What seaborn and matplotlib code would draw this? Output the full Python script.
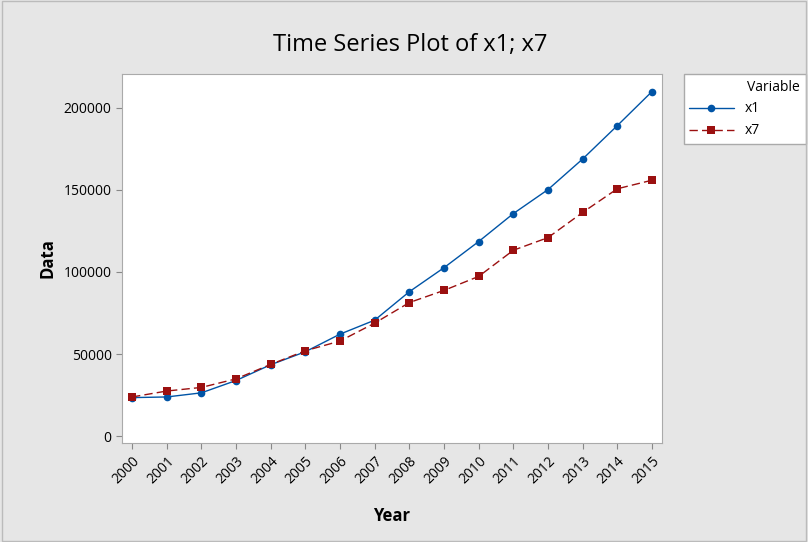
import pandas as pd
import matplotlib.pyplot as plt
import seaborn as sns

# values
years = list(range(2000, 2016))
x1 = [23600, 24000, 26500, 34000, 43600, 51500, 62200, 70700,
      88000, 102600, 118500, 135500, 150100, 168700, 189000, 209700]
x7 = [24000, 27600, 29800, 35000, 43800, 52100, 58000, 68900,
      81400, 88800, 97300, 113200, 120900, 136200, 150600, 155800]

df = pd.DataFrame({'Year': years * 2,
                   'Data': x1 + x7,
                   'Variable': ['x1'] * len(years) + ['x7'] * len(years)})

sns.set_style('white')
plt.rcParams['font.family'] = ['Open Sans', 'DejaVu Sans']
plt.rcParams['text.color'] = 'black'
plt.rcParams['xtick.color'] = 'black'
plt.rcParams['ytick.color'] = 'black'
plt.rcParams['axes.labelcolor'] = 'black'

fig = plt.figure(figsize=(8.08, 5.42), dpi=100, facecolor='#e6e6e6')
ax = fig.add_axes([122/808, 1 - 443/542, 540/808, 369/542])

palette = {'x1': '#0054a6', 'x7': '#9b1010'}
sns.lineplot(data=df, x='Year', y='Data', hue='Variable', style='Variable',
             palette=palette, markers={'x1': 'o', 'x7': 's'},
             dashes={'x1': '', 'x7': (6, 3)}, linewidth=1,
             markersize=5.5, markeredgewidth=0, ax=ax)

ax.set_xlim(1999.71, 2015.29)
ax.set_ylim(-4000, 220400)
ax.set_xticks(years)
ax.set_xticklabels([str(y) for y in years], rotation=45, ha='right',
                   rotation_mode='anchor', fontsize=10)
ax.set_yticks([0, 50000, 100000, 150000, 200000])
ax.tick_params(axis='y', labelsize=10, length=4)
ax.tick_params(axis='x', length=4)
ax.tick_params(bottom=True, left=True, color='#888888')
for s in ax.spines.values():
    s.set_color('#aaaaaa')

ax.set_xlabel('Year', fontsize=12, fontweight='bold', labelpad=15)
ax.set_ylabel('Data', fontsize=12, fontweight='bold', labelpad=5)
fig.text(410/808, 1 - 45/542, 'Time Series Plot of x1; x7', fontsize=17,
         ha='center', va='center')

leg = ax.legend(title='Variable', loc='upper left',
                bbox_to_anchor=(1.04, 0.5, 0.226, 0.5), mode='expand',
                frameon=True, fancybox=False, fontsize=10, title_fontsize=10,
                borderaxespad=0, handlelength=3.2, framealpha=1)
leg.get_frame().set_edgecolor('#aaaaaa')
leg.get_frame().set_facecolor('white')
leg._legend_box.align = 'right'

fig.patches.append(plt.Rectangle((0.002, 0.002), 0.996, 0.996, transform=fig.transFigure,
                                 fill=False, edgecolor='#bbbbbb', linewidth=1))

plt.savefig('out.png', dpi=100, facecolor=fig.get_facecolor())
